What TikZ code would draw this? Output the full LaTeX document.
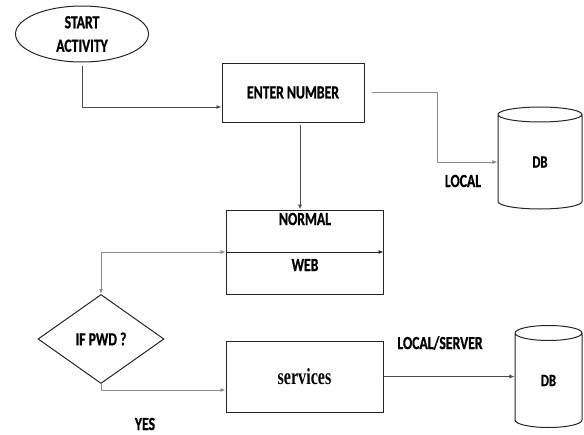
\documentclass[tikz,border=0pt]{standalone}
\usepackage{fontspec}
\newfontfamily\lblfont{Carlito}[FakeStretch=0.74, FakeBold=0.8]
\newfontfamily\srvfont{Liberation Serif}[FakeStretch=0.7]
\usepackage{tikz}
\usetikzlibrary{arrows.meta,positioning,shapes.geometric,calc}

\tikzset{
  lbl/.style={font=\lblfont\bfseries\fontsize{18.5}{23.5}\selectfont, inner sep=0pt},
  boxnode/.style={draw=black!85, line width=1pt, rectangle, inner sep=0pt},
  dbnode/.style={draw=black!85, line width=1pt, cylinder, shape border rotate=90,
    aspect=1.0, minimum height=102pt, inner sep=0pt, anchor=shape center,
    font=\lblfont\bfseries\fontsize{17}{20}\selectfont},
  flow/.style={black!70, line width=0.8pt, -{Latex[length=5pt,width=4pt]}},
  grayflow/.style={black!45, line width=0.8pt},
}

\begin{document}
\begin{tikzpicture}[x=1pt, y=-1pt]
\useasboundingbox (0,0) rectangle (584,434);

% ---------- nodes ----------
\node[draw=black!85, line width=1pt, ellipse, minimum width=133pt, minimum height=56pt,
  inner sep=0pt, lbl, align=center] (start) at (82,34) {START\\ACTIVITY};
\node[boxnode, minimum width=142pt, minimum height=59pt, lbl] (enter) at (293,92.5) {ENTER NUMBER};
\node[dbnode, minimum width=84pt] (dbone) at (540,158) {DB};

\node[boxnode, minimum width=157pt, minimum height=84pt] (normal) at (304.5,252) {};
\node[lbl] (normaltxt) at (305,219) {NORMAL};
\node[lbl] (webtxt) at (305,265) {WEB};

\node[draw=black!85, line width=1pt, diamond, aspect=1.416, minimum width=126pt,
  minimum height=89pt, inner sep=0pt, lbl] (pwd) at (101,339) {IF PWD ?};
\node[boxnode, minimum width=157pt, minimum height=71pt,
  font=\srvfont\bfseries\fontsize{23}{26}\selectfont] (serv) at (304.5,376.5) {services};
\node[dbnode, minimum width=67pt] (dbtwo) at (548.5,376.5) {DB};

\node[lbl] (local) at (463,181) {LOCAL};
\node[lbl] (localsrv) at (440,343) {LOCAL/SERVER};
\node[lbl] (yes) at (145,424) {YES};

% ---------- connectors ----------
\draw[flow] ([yshift=-3pt]start.south) |- ([yshift=-14.5pt]enter.west);
\draw[flow] ([xshift=7pt, yshift=-2pt]enter.south) -- ([xshift=7pt]enter.south |- normal.north);
\draw[flow, black!45] ([xshift=7pt]enter.east) -- ++(66,0) |- (dbone.west);

\draw[grayflow, {Latex[length=5pt,width=4pt]}-{Latex[length=5pt,width=4pt]}] (pwd.north) |- (normal.west);
\draw[flow, black!85] (normal.west) -- (normal.east);

\draw[flow, black!45] (pwd.south) |- ([yshift=-13.5pt]serv.west);
\draw[flow] (serv.east) -- (serv.east -| dbtwo.west);

\end{tikzpicture}
\end{document}
